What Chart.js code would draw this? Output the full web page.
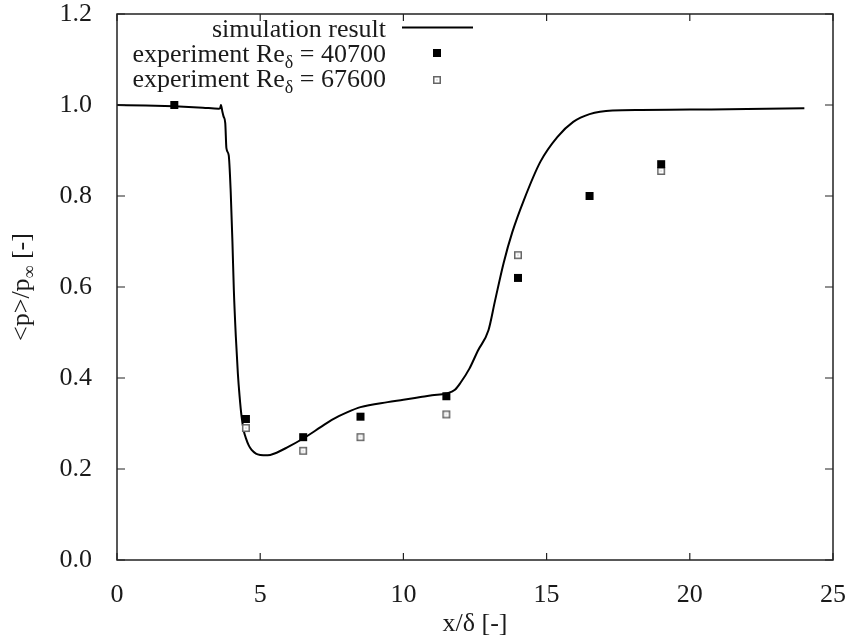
<!DOCTYPE html>
<html>
<head>
<meta charset="utf-8">
<script src="https://cdn.jsdelivr.net/npm/chart.js@4"></script>
<style>
  html, body { margin: 0; padding: 0; background: #fff; }
  canvas { display: block; }
</style>
</head>
<body>
<canvas id="c" width="847" height="643"></canvas>
<script>
// Simulation: mean wall pressure <p>/p_inf along x/delta
const simX = [0, 1, 2, 3, 3.55, 3.6, 3.63, 3.68, 3.72, 3.78, 3.82, 3.9, 3.97, 4.03, 4.08, 4.15, 4.22, 4.28,
  4.35, 4.43, 4.5, 4.6, 4.7, 4.85, 5.0, 5.26, 5.5, 5.96, 6.5, 7.11, 7.5, 8.05, 8.5, 9.45, 10.0, 10.6,
  11.0, 11.5, 11.8, 12.0, 12.3, 12.6, 12.97, 13.2, 13.5, 13.8, 14.2, 14.78, 15.38, 15.93, 16.5, 17.3,
  18.3, 20, 22, 24];
const simY = [1.0, 0.999, 0.997, 0.994, 0.992, 0.993, 1.0, 0.985, 0.975, 0.96, 0.905, 0.89, 0.81, 0.70,
  0.593, 0.49, 0.41, 0.36, 0.315, 0.283, 0.268, 0.252, 0.242, 0.234, 0.231, 0.230, 0.234, 0.248, 0.267,
  0.292, 0.308, 0.325, 0.336, 0.347, 0.352, 0.358, 0.362, 0.366, 0.374, 0.39, 0.42, 0.46, 0.505, 0.57,
  0.653, 0.72, 0.79, 0.875, 0.93, 0.963, 0.98, 0.988, 0.989, 0.990, 0.991, 0.993];

// Experiment, Re_delta = 40700
const expAX = [2, 4.5, 6.5, 8.5, 11.5, 14, 16.5, 19];
const expAY = [1.0, 0.31, 0.27, 0.315, 0.36, 0.62, 0.80, 0.87];

// Experiment, Re_delta = 67600
const expBX = [4.5, 6.5, 8.5, 11.5, 14, 19];
const expBY = [0.29, 0.24, 0.27, 0.32, 0.67, 0.855];

// Axis ticks
const xTicks = [0, 5, 10, 15, 20, 25];
const yTicks = [0.0, 0.2, 0.4, 0.6, 0.8, 1.0, 1.2];

const SERIF = '"Liberation Serif", "DejaVu Serif", serif';
const FS = 26;
const TEXT = '#1a1a1a';

function pairs(xs, ys) { return xs.map((x, i) => ({ x: x, y: ys[i] })); }

function squareMarker(filled) {
  const c = document.createElement('canvas');
  c.width = 10; c.height = 10;
  const g = c.getContext('2d');
  if (filled) {
    g.fillStyle = '#000';
    g.fillRect(1, 1, 8, 8);
  } else {
    g.fillStyle = '#fff';
    g.fillRect(1, 1, 8, 8);
    g.strokeStyle = '#666';
    g.lineWidth = 1.5;
    g.strokeRect(1.75, 1.75, 6.5, 6.5);
    g.fillStyle = '#999';
    g.fillRect(4.5, 4.5, 1, 1);
  }
  return c;
}
const filledSq = squareMarker(true);
const openSq = squareMarker(false);

// Text runs with optional subscript pieces
function pieceFont(p) { return (p.sub ? Math.round(FS * 0.68) : FS) + 'px ' + SERIF; }
function richWidth(ctx, parts) {
  let w = 0;
  parts.forEach(p => { ctx.font = pieceFont(p); w += ctx.measureText(p.t).width; });
  return w;
}
function drawRich(ctx, parts, x, baseline) {
  parts.forEach(p => {
    ctx.font = pieceFont(p);
    ctx.fillText(p.t, x, baseline + (p.sub ? 6 : 0));
    x += ctx.measureText(p.t).width;
  });
}

const decorations = {
  id: 'decorations',
  afterDraw(chart) {
    const ctx = chart.ctx;
    const a = chart.chartArea;
    const xs = chart.scales.x, ys = chart.scales.y;
    ctx.save();

    // frame
    ctx.strokeStyle = '#222';
    ctx.lineWidth = 1.5;
    ctx.strokeRect(a.left, a.top, a.right - a.left, a.bottom - a.top);

    // inward tick marks on all four sides
    ctx.lineWidth = 1.2;
    ctx.beginPath();
    xTicks.forEach(v => {
      const px = xs.getPixelForValue(v);
      ctx.moveTo(px, a.bottom); ctx.lineTo(px, a.bottom - 7);
      ctx.moveTo(px, a.top); ctx.lineTo(px, a.top + 7);
    });
    yTicks.forEach(v => {
      const py = ys.getPixelForValue(v);
      ctx.moveTo(a.left, py); ctx.lineTo(a.left + 8, py);
      ctx.moveTo(a.right, py); ctx.lineTo(a.right - 8, py);
    });
    ctx.stroke();

    ctx.fillStyle = TEXT;
    ctx.textBaseline = 'alphabetic';
    ctx.textAlign = 'left';

    // x axis title
    const xt = [{ t: 'x/δ [-]' }];
    drawRich(ctx, xt, (a.left + a.right) / 2 - richWidth(ctx, xt) / 2, 631);

    // y axis title, rotated
    const yt = [{ t: '<p>/p' }, { t: '∞', sub: true }, { t: ' [-]' }];
    ctx.save();
    ctx.translate(29, (a.top + a.bottom) / 2);
    ctx.rotate(-Math.PI / 2);
    drawRich(ctx, yt, -richWidth(ctx, yt) / 2, 0);
    ctx.restore();

    // key
    const keyRight = 386;
    const rows = [
      [{ t: 'simulation result' }],
      [{ t: 'experiment Re' }, { t: 'δ', sub: true }, { t: ' = 40700' }],
      [{ t: 'experiment Re' }, { t: 'δ', sub: true }, { t: ' = 67600' }]
    ];
    const baselines = [37, 62, 87];
    rows.forEach((r, i) => {
      drawRich(ctx, r, keyRight - richWidth(ctx, r), baselines[i]);
    });
    ctx.strokeStyle = '#000';
    ctx.lineWidth = 2;
    ctx.beginPath();
    ctx.moveTo(402, 27.5); ctx.lineTo(473, 27.5);
    ctx.stroke();
    ctx.drawImage(filledSq, 437 - 5, 53 - 5);
    ctx.drawImage(openSq, 437 - 5, 80 - 5);

    ctx.restore();
  }
};

new Chart(document.getElementById('c'), {
  type: 'scatter',
  data: {
    datasets: [
      {
        label: 'experiment Re = 40700',
        data: pairs(expAX, expAY),
        pointStyle: filledSq,
        pointRadius: 5,
        showLine: false
      },
      {
        label: 'experiment Re = 67600',
        data: pairs(expBX, expBY),
        pointStyle: openSq,
        pointRadius: 5,
        showLine: false
      },
      {
        type: 'line',
        label: 'simulation result',
        data: pairs(simX, simY),
        borderColor: '#000',
        borderWidth: 2,
        pointRadius: 0,
        fill: false,
        cubicInterpolationMode: 'monotone'
      }
    ]
  },
  options: {
    responsive: false,
    animation: false,
    events: [],
    layout: { padding: { top: 14, right: 14, left: 0, bottom: 0 } },
    plugins: { legend: { display: false }, tooltip: { enabled: false } },
    scales: {
      x: {
        type: 'linear',
        min: 0, max: 25,
        afterBuildTicks: s => { s.ticks = xTicks.map(v => ({ value: v })); },
        ticks: { padding: 14, color: TEXT, font: { family: SERIF, size: FS, lineHeight: 1 }, maxRotation: 0 },
        grid: { display: false },
        border: { display: false },
        afterFit: s => { s.height = 83; s.paddingLeft = 0; s.paddingRight = 0; }
      },
      y: {
        type: 'linear',
        min: 0, max: 1.2,
        afterBuildTicks: s => { s.ticks = yTicks.map(v => ({ value: v })); },
        ticks: { padding: 17, color: TEXT, font: { family: SERIF, size: FS, lineHeight: 1 },
          callback: v => Number(v).toFixed(1) },
        grid: { display: false },
        border: { display: false },
        afterFit: s => { s.width = 117; s.paddingTop = 0; s.paddingBottom = 0; }
      }
    }
  },
  plugins: [decorations]
});
</script>
</body>
</html>
